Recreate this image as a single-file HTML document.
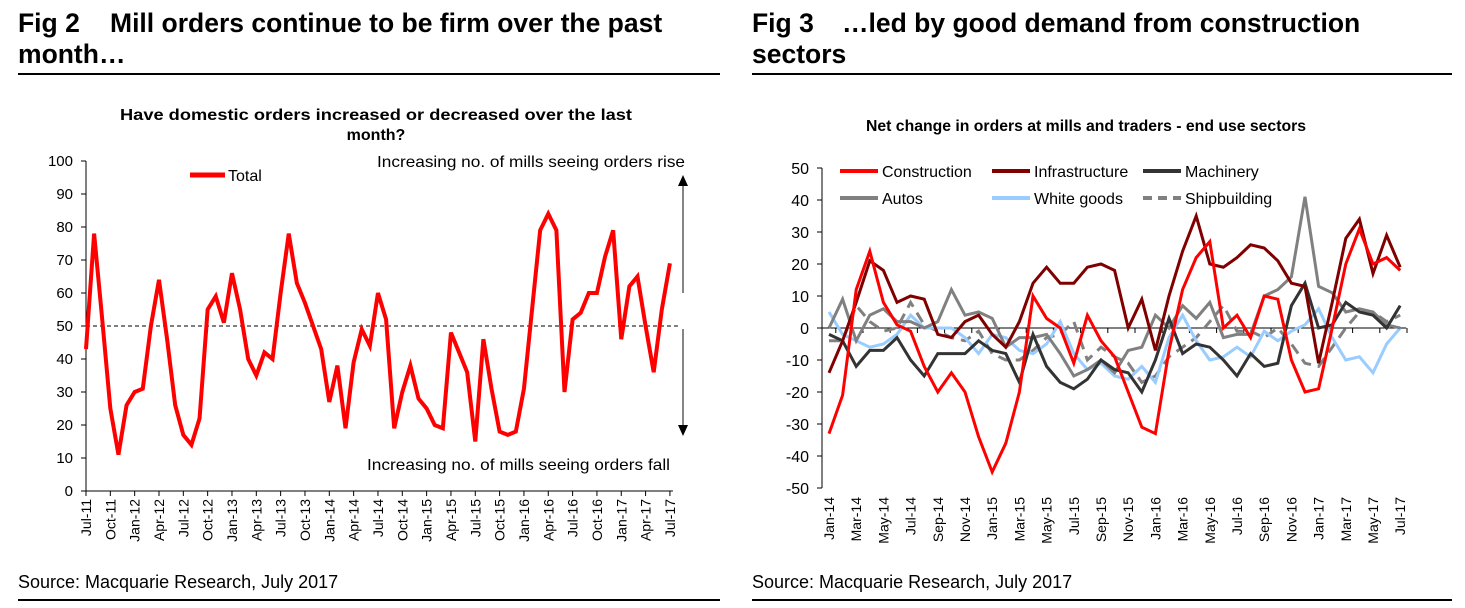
<!DOCTYPE html>
<html><head><meta charset="utf-8"><style>
html,body{margin:0;padding:0;background:#fff;}
svg{display:block;font-family:"Liberation Sans",Arial,sans-serif;}
</style></head><body>
<svg id="s" width="1465" height="608" viewBox="0 0 1465 608">
<g>
<text y="32" font-size="26.5" font-weight="bold"><tspan x="18">Fig 2</tspan><tspan x="110">Mill orders continue to be firm over the past</tspan></text>
<text x="18" y="63" font-size="26.5" font-weight="bold">month…</text>
<rect x="18" y="73" width="702" height="2" fill="#000"/>
</g>
<g>
<text y="32" font-size="26.5" font-weight="bold"><tspan x="752">Fig 3</tspan><tspan x="842">…led by good demand from construction</tspan></text>
<text x="752" y="63" font-size="26.5" font-weight="bold">sectors</text>
<rect x="752" y="73" width="700" height="2" fill="#000"/>
</g>
<text x="18" y="588" font-size="18">Source: Macquarie Research, July 2017</text>
<rect x="18" y="599" width="702" height="2" fill="#000"/>
<text x="752" y="588" font-size="18">Source: Macquarie Research, July 2017</text>
<rect x="752" y="599" width="700" height="2" fill="#000"/>

<g id="c1">
<text x="120" y="120" font-size="16" font-weight="bold" textLength="512" lengthAdjust="spacingAndGlyphs">Have domestic orders increased or decreased over the last</text>
<text x="376" y="140" font-size="16" font-weight="bold" text-anchor="middle">month?</text>
<text x="685" y="167" font-size="16" text-anchor="end" textLength="308" lengthAdjust="spacingAndGlyphs">Increasing no. of mills seeing orders rise</text>
<text x="670" y="470" font-size="16" text-anchor="end" textLength="303" lengthAdjust="spacingAndGlyphs">Increasing no. of mills seeing orders fall</text>
<g>
<line x1="683" y1="180" x2="683" y2="293" stroke="#333" stroke-width="1.2"/>
<polygon points="678,186 688,186 683,175" fill="#000"/>
<line x1="683" y1="329" x2="683" y2="428" stroke="#333" stroke-width="1.2"/>
<polygon points="678,425 688,425 683,436" fill="#000"/>
</g>
<line x1="190" y1="175" x2="225" y2="175" stroke="#f00" stroke-width="5"/>
<text x="228" y="181" font-size="16">Total</text>
</g>
<g id="c2">
<text x="866" y="131" font-size="16" font-weight="bold" textLength="440" lengthAdjust="spacingAndGlyphs">Net change in orders at mills and traders - end use sectors</text>
</g>
</svg>
<script>
const NS="http://www.w3.org/2000/svg";
function mk(t,a,p){const e=document.createElementNS(NS,t);for(const k in a)e.setAttribute(k,a[k]);p.appendChild(e);return e;}

// ---- Fig 2 data ----
const totalMonths=["Jul-11","Oct-11","Jan-12","Apr-12","Jul-12","Oct-12","Jan-13","Apr-13","Jul-13","Oct-13","Jan-14","Apr-14","Jul-14","Oct-14","Jan-15","Apr-15","Jul-15","Oct-15","Jan-16","Apr-16","Jul-16","Oct-16","Jan-17","Apr-17","Jul-17"];
const totalValues=[43,78,52,25,11,26,30,31,50,64,46,26,17,14,22,55,59,51,66,55,40,35,42,40,60,78,63,57,50,43,27,38,19,39,49,44,60,52,19,30,38,28,25,20,19,48,42,36,15,46,31,18,17,18,31,55,79,84,79,30,52,54,60,60,71,79,46,62,65,50,36,55,69];
const leftTicks=[0,10,20,30,40,50,60,70,80,90,100];

// ---- Fig 3 data ----
const sectorMonths=["Jan-14","Mar-14","May-14","Jul-14","Sep-14","Nov-14","Jan-15","Mar-15","May-15","Jul-15","Sep-15","Nov-15","Jan-16","Mar-16","May-16","Jul-16","Sep-16","Nov-16","Jan-17","Mar-17","May-17","Jul-17"];
const construction=[-33,-21,12,24,8,1,-1,-12,-20,-14,-20,-34,-45,-36,-20,10,3,0,-11,4,-4,-9,-20,-31,-33,-7,12,22,27,0,4,-3,10,9,-10,-20,-19,0,20,31,20,22,18];
const infrastructure=[-14,-4,8,21,18,8,10,9,-2,-3,2,4,-2,-6,2,14,19,14,14,19,20,18,0,9,-7,10,24,35,20,19,22,26,25,21,14,13,-11,8,28,34,17,29,19];
const machinery=[-2,-4,-12,-7,-7,-3,-10,-15,-8,-8,-8,-4,-7,-8,-17,-2,-12,-17,-19,-16,-10,-13,-14,-20,-10,3,-8,-5,-6,-10,-15,-8,-12,-11,7,14,0,1,8,5,4,0,7];
const autos=[0,9,-4,4,6,2,2,0,2,12,4,5,3,-6,-3,-3,-2,-8,-15,-13,-10,-14,-7,-6,4,0,7,3,8,-3,-2,-2,10,12,16,41,13,11,5,6,5,1,0];
const whiteGoods=[5,-2,-4,-6,-5,-2,4,0,0,0,-3,-8,-2,-3,-7,-8,-5,2,-8,-13,-11,-15,-16,-12,-17,-3,4,-4,-10,-9,-6,-9,-1,-4,-1,1,6,-3,-10,-9,-14,-5,0];
const shipbuilding=[-4,-4,7,2,-1,0,8,1,-1,-3,-4,-1,-8,-10,-10,-7,-3,-2,2,-10,-6,-9,-11,-17,-15,-9,-6,-3,2,7,-1,-1,-3,0,-5,-11,-12,-6,0,5,5,2,4];
const rightTicks=[50,40,30,20,10,0,-10,-20,-30,-40,-50];

// ---- Fig 2 ----
(function(){
 const g=document.getElementById('c1');
 const x0=86,dx=8.11,yB=491,yT=161;
 const X=i=>x0+i*dx, Y=v=>yB-(v-0)/100*(yB-yT);
 const ax=mk('g',{},g);
 
 
 mk('line',{x1:x0,y1:yT,x2:x0,y2:yB,stroke:'#000','stroke-width':1},ax);
 mk('line',{x1:x0,y1:yB,x2:X(72)+3,y2:yB,stroke:'#000','stroke-width':1},ax);
 leftTicks.forEach(v=>{
  mk('line',{x1:x0-5,y1:Y(v),x2:x0,y2:Y(v),stroke:'#000'},ax);
  const t=mk('text',{x:x0-13,y:Y(v)+5,'font-size':15,'text-anchor':'end'},ax);t.textContent=v;
  
  
 });
 totalMonths.forEach((m,k)=>{
  const xx=X(k*3);
  mk('line',{x1:xx,y1:yB,x2:xx,y2:yB+5,stroke:'#000'},ax);
  const t=mk('text',{x:0,y:0,'font-size':14,'text-anchor':'end',transform:`translate(${xx+5},${yB+8}) rotate(-90)`},ax);t.textContent=m;
  
  
 });
 const ref=mk('line',{x1:x0,y1:Y(50),x2:X(72)+8,y2:Y(50),stroke:'#333','stroke-dasharray':'4,3','stroke-width':1.2},g);
 
 
 const p=mk('polyline',{points:totalValues.map((v,i)=>X(i)+','+Y(v)).join(' '),fill:'none',stroke:'#f00','stroke-width':4,'stroke-linejoin':'miter'},g);
 
 
})();
// ---- Fig 3 ----
(function(){
 const g=document.getElementById('c2');
 const x0=829,dx=13.6,axL=822,yT=168,yB=488;
 const X=i=>x0+i*dx, Y=v=>yT+(50-v)/100*(yB-yT);
 const ax=mk('g',{},g);
 
 
 mk('line',{x1:axL,y1:yT,x2:axL,y2:yB,stroke:'#000'},ax);
 mk('line',{x1:axL,y1:Y(0),x2:X(42)+6,y2:Y(0),stroke:'#000'},ax);
 rightTicks.forEach(v=>{
  mk('line',{x1:axL-5,y1:Y(v),x2:axL,y2:Y(v),stroke:'#000'},ax);
  const t=mk('text',{x:axL-13,y:Y(v)+6,'font-size':16,'text-anchor':'end'},ax);t.textContent=v;
  
  
 });
 sectorMonths.forEach((m,k)=>{
  const xx=X(k*2);
  mk('line',{x1:xx+dx/2,y1:Y(0),x2:xx+dx/2,y2:Y(0)+5,stroke:'#000'},ax);
  const t=mk('text',{x:0,y:0,'font-size':14,'text-anchor':'end',transform:`translate(${xx+5},${yB+9}) rotate(-90)`},ax);t.textContent=m;
  
  
 });
 const series=[
  {n:'shipbuilding',d:shipbuilding,c:'#808080',dash:'11,7'},
  {n:'white-goods',d:whiteGoods,c:'#99ccff'},
  {n:'autos',d:autos,c:'#808080'},
  {n:'machinery',d:machinery,c:'#333333'},
  {n:'infrastructure',d:infrastructure,c:'#800000'},
  {n:'construction',d:construction,c:'#ff0000'}];
 series.forEach(s=>{
  const a={points:s.d.map((v,i)=>X(i)+','+Y(v)).join(' '),fill:'none',stroke:s.c,'stroke-width':3};
  if(s.dash)a['stroke-dasharray']=s.dash;
  const p=mk('polyline',a,g);
  
  
 });
 const leg=[['Construction','#ff0000',840,171],['Infrastructure','#800000',992,171],['Machinery','#333333',1143,171],['Autos','#808080',840,198],['White goods','#99ccff',992,198],['Shipbuilding','#808080',1143,198,'9,6']];
 leg.forEach(l=>{
  const gg=mk('g',{},g);
  
  
  const a={x1:l[2],y1:l[3],x2:l[2]+38,y2:l[3],stroke:l[1],'stroke-width':4};
  if(l[4])a['stroke-dasharray']=l[4];
  mk('line',a,gg);
  const t=mk('text',{x:l[2]+42,y:l[3]+6,'font-size':16},gg);t.textContent=l[0];
 });
})();
</script>
</body></html>
